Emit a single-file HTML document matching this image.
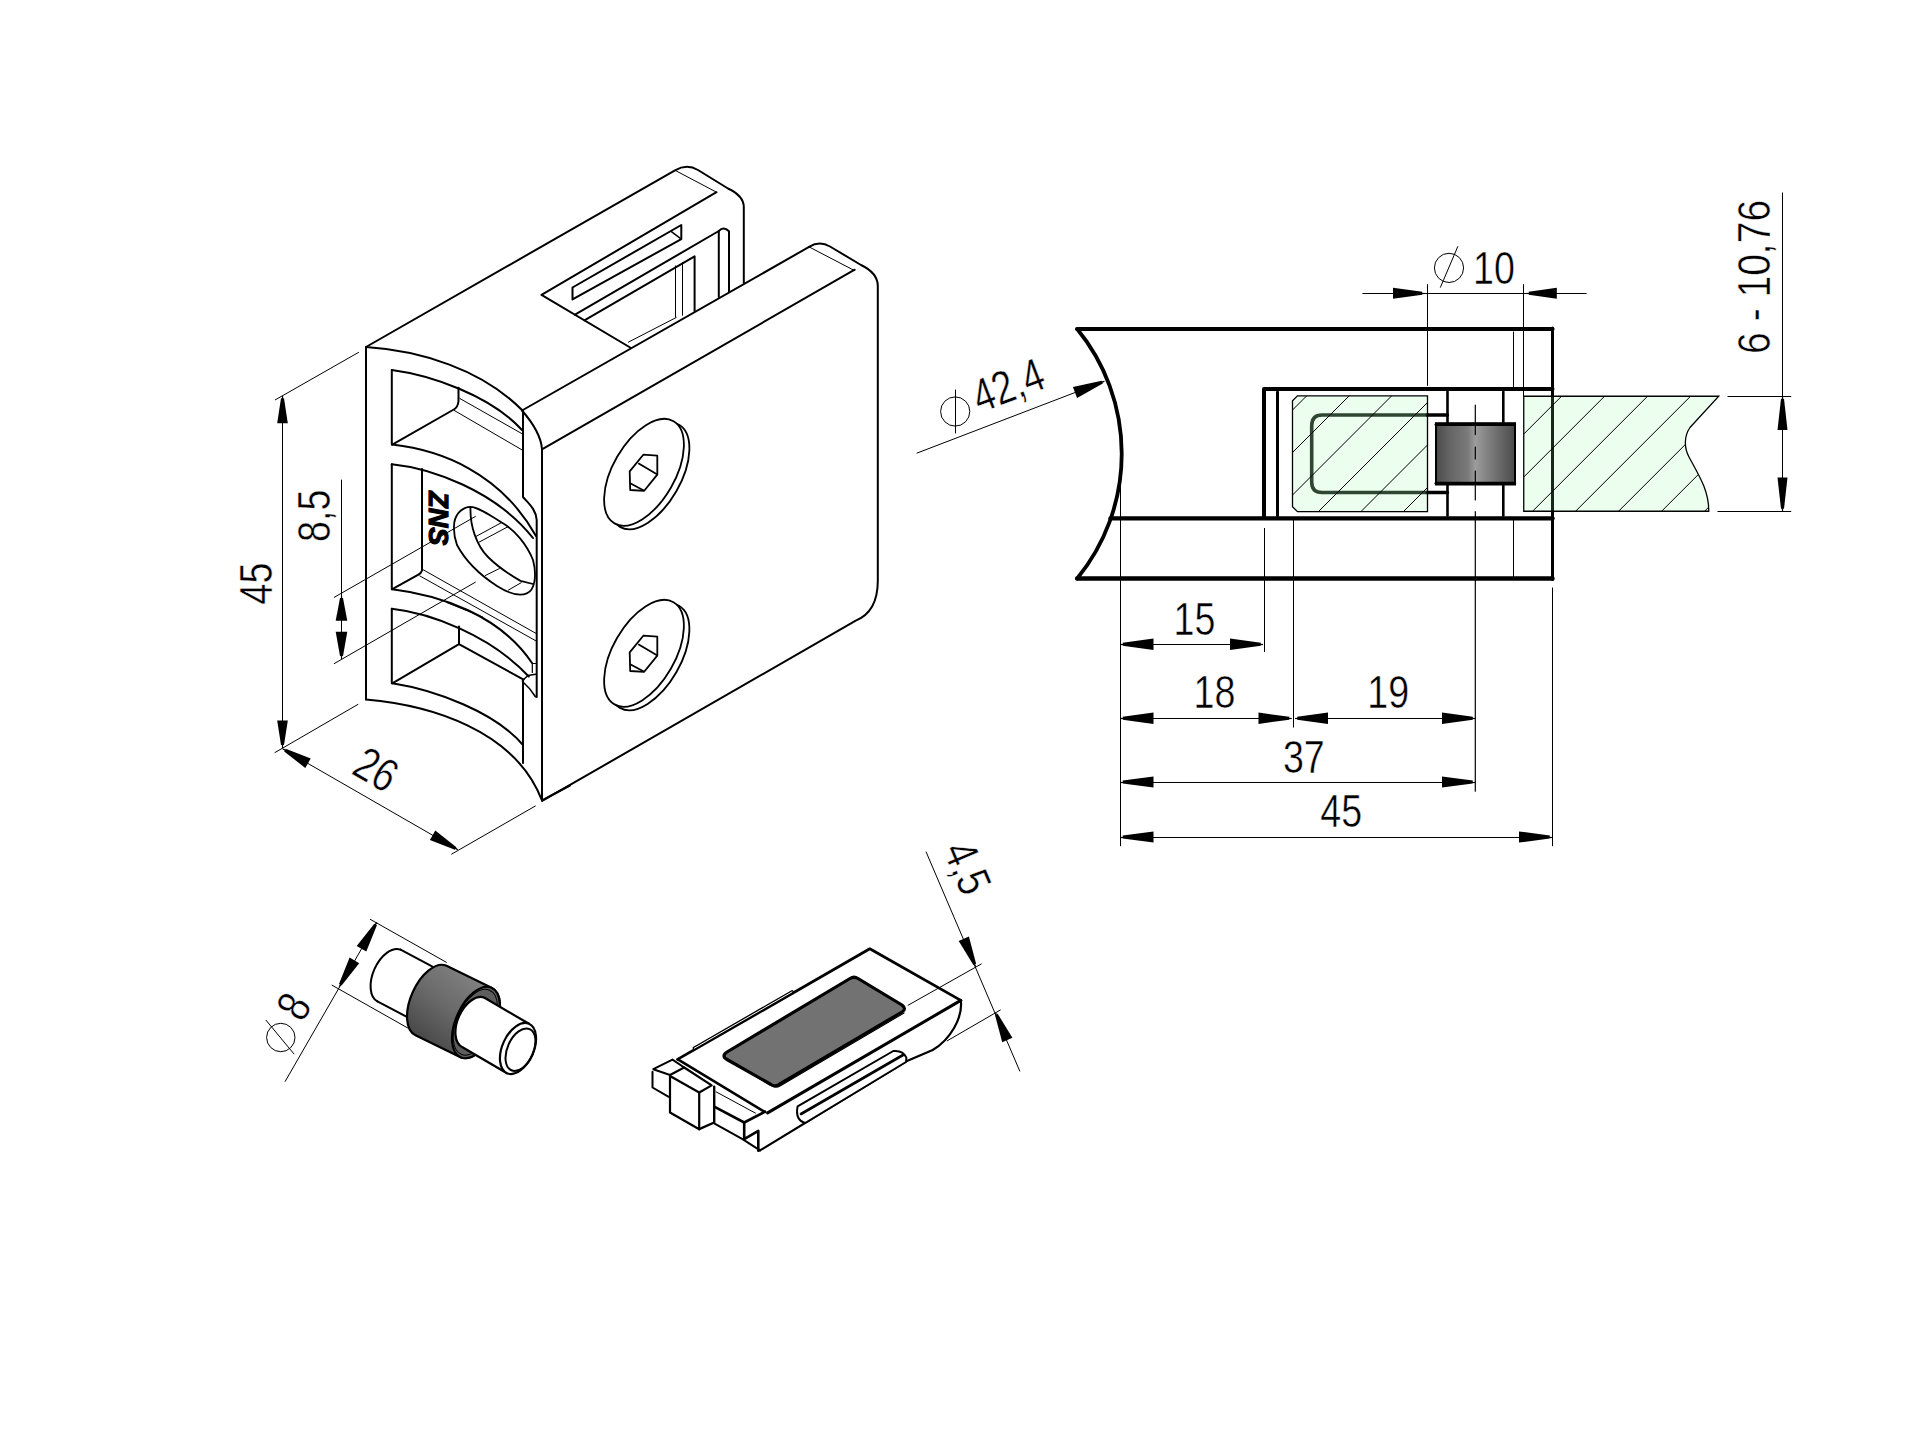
<!DOCTYPE html>
<html><head><meta charset="utf-8"><title>Glass clamp drawing</title>
<style>html,body{margin:0;padding:0;background:#fff;overflow:hidden}svg{display:block}</style>
</head><body>
<svg width="1919" height="1440" viewBox="0 0 1919 1440">
<rect width="1919" height="1440" fill="#fff"/>
<path d="M366,347 L366,699.5" stroke="#000" stroke-width="2.0" fill="none" stroke-linejoin="round" stroke-linecap="round" />
<path d="M366,347 C420,350.5 482,369 523,411" stroke="#000" stroke-width="2.0" fill="none" stroke-linejoin="round" stroke-linecap="round" />
<path d="M366,699.5 C430,705 515,730 542,800.5" stroke="#000" stroke-width="2.0" fill="none" stroke-linejoin="round" stroke-linecap="round" />
<path d="M522,410.5 C532,422 541,436 542,449 L542,800.5" stroke="#000" stroke-width="2.0" fill="none" stroke-linejoin="round" stroke-linecap="round" />
<path d="M523,411 L523,497 C528,503 536,509 536.7,520 L536.7,697" stroke="#000" stroke-width="2.0" fill="none" stroke-linejoin="round" stroke-linecap="round" />
<path d="M523,680 L523,763" stroke="#000" stroke-width="2.0" fill="none" stroke-linejoin="round" stroke-linecap="round" />
<path d="M522.5,680.5 L528,675.5 L535.5,674.2" stroke="#000" stroke-width="1.6" fill="none" stroke-linejoin="round" stroke-linecap="round" />
<path d="M522.5,681.5 Q530,688 535.5,696.7" stroke="#000" stroke-width="1.6" fill="none" stroke-linejoin="round" stroke-linecap="round" />
<path d="M532.3,663.5 L535.5,663.5 M532.3,663.5 L532.3,672.5" stroke="#000" stroke-width="1.2" fill="none" stroke-linejoin="round" stroke-linecap="round" />
<path d="M391.8,370 L391.8,444.6" stroke="#000" stroke-width="2.0" fill="none" stroke-linejoin="round" stroke-linecap="round" />
<path d="M391.8,370 C430,375 490,395 522,430" stroke="#000" stroke-width="2.0" fill="none" stroke-linejoin="round" stroke-linecap="round" />
<path d="M458.5,387.8 L458.5,401 Q458,407 453.8,409.5 L392.3,444.6" stroke="#000" stroke-width="2.0" fill="none" stroke-linejoin="round" stroke-linecap="round" />
<line x1="459.5" y1="398.3" x2="522" y2="433.7" stroke="#000" stroke-width="1.0" />
<line x1="453.8" y1="410.2" x2="522" y2="449.9" stroke="#000" stroke-width="1.0" />
<path d="M392.3,444.6 C440,450 500,472 536,536" stroke="#000" stroke-width="2.0" fill="none" stroke-linejoin="round" stroke-linecap="round" />
<path d="M391.8,464.2 L391.8,589.2" stroke="#000" stroke-width="2.0" fill="none" stroke-linejoin="round" stroke-linecap="round" />
<path d="M391.8,464.2 C430,468 495,490 533,538" stroke="#000" stroke-width="2.0" fill="none" stroke-linejoin="round" stroke-linecap="round" />
<path d="M422,469 L422,570.5 Q421,573.5 418.4,574.6 L392.3,589.2" stroke="#000" stroke-width="2.0" fill="none" stroke-linejoin="round" stroke-linecap="round" />
<line x1="422.5" y1="569.4" x2="536" y2="633.4" stroke="#000" stroke-width="1.0" />
<line x1="419.4" y1="575.7" x2="536" y2="640.9" stroke="#000" stroke-width="1.0" />
<path d="M392.3,589.2 C440,595 500,615 532,663" stroke="#000" stroke-width="2.0" fill="none" stroke-linejoin="round" stroke-linecap="round" />
<path d="M391.8,608.8 L391.8,683.3" stroke="#000" stroke-width="2.0" fill="none" stroke-linejoin="round" stroke-linecap="round" />
<path d="M391.8,608.8 C430,613 490,635 528.8,676.5" stroke="#000" stroke-width="2.0" fill="none" stroke-linejoin="round" stroke-linecap="round" />
<path d="M459,626.5 L459,644.2 L392.3,683.3" stroke="#000" stroke-width="2.0" fill="none" stroke-linejoin="round" stroke-linecap="round" />
<path d="M459,644.2 L523.6,679.6" stroke="#000" stroke-width="2.0" fill="none" stroke-linejoin="round" stroke-linecap="round" />
<path d="M392.3,683.3 C435,690 495,712 523,745" stroke="#000" stroke-width="2.0" fill="none" stroke-linejoin="round" stroke-linecap="round" />
<line x1="446.5" y1="602.5" x2="483" y2="617.1" stroke="#000" stroke-width="1.0" />
<path d="M454.3,522.5 C456,512 464,507 470.5,506.9 C478,507 490,515 501.7,522.5 C515,530 527,545 533,560 C537,575 535,590 526.8,593.4 C518,597 508,593 497,586 C480,575 465,560 457,545 C454,537 453.5,529 454.3,522.5 Z" stroke="#000" stroke-width="1.8" fill="#fff" stroke-linejoin="round" stroke-linecap="round" />
<path d="M470.5,508 C470,525 476,545 488,557 C495,564 505,572 520.5,580.9 L533,584" stroke="#000" stroke-width="1.8" fill="none" stroke-linejoin="round" stroke-linecap="round" />
<line x1="475.7" y1="536.6" x2="501.7" y2="522.5" stroke="#000" stroke-width="1.0" />
<line x1="478.8" y1="542.3" x2="508" y2="526.7" stroke="#000" stroke-width="1.0" />
<line x1="485" y1="575.7" x2="499.7" y2="568.4" stroke="#000" stroke-width="1.0" />
<line x1="508" y1="590.3" x2="521.5" y2="582.5" stroke="#000" stroke-width="1.0" />
<text transform="translate(438 518.3) rotate(90)" font-family="&quot;Liberation Sans&quot;, sans-serif" font-size="27" font-weight="bold" text-anchor="middle" dominant-baseline="central" font-style="italic" stroke="#000" stroke-width="1.2">ZNS</text>
<path d="M366,347 L675,170.3 Q686.8,163.5 698,170 L728,188.5 Q743.8,196 743.8,207 L743.8,283" stroke="#000" stroke-width="2.0" fill="none" stroke-linejoin="round" stroke-linecap="round" />
<line x1="675" y1="170.3" x2="716.5" y2="192.2" stroke="#000" stroke-width="1.0" />
<path d="M716.5,192.2 L541.5,294.9 L631,348" stroke="#000" stroke-width="2.0" fill="none" stroke-linejoin="round" stroke-linecap="round" />
<path d="M572.5,287.5 L681.3,225 L681.3,239.1 L572.5,299.4 Z" stroke="#000" stroke-width="2.0" fill="none" stroke-linejoin="round" stroke-linecap="round" />
<line x1="671.1" y1="231.3" x2="681.3" y2="239.1" stroke="#000" stroke-width="1.5" />
<path d="M575,314.7 L718.8,231 Q723.5,226 729,231.3 L729,291.5" stroke="#000" stroke-width="2.0" fill="none" stroke-linejoin="round" stroke-linecap="round" />
<path d="M718.8,231 L718.8,297" stroke="#000" stroke-width="2.0" fill="none" stroke-linejoin="round" stroke-linecap="round" />
<path d="M584.4,320.3 L694.6,256.3 L694.6,311" stroke="#000" stroke-width="2.0" fill="none" stroke-linejoin="round" stroke-linecap="round" />
<line x1="682.5" y1="262" x2="682.5" y2="315.7" stroke="#000" stroke-width="1.0" />
<line x1="675.5" y1="265.5" x2="675.5" y2="317.3" stroke="#000" stroke-width="1.0" />
<line x1="676.6" y1="317.3" x2="628.1" y2="342.3" stroke="#000" stroke-width="1.0" />
<path d="M809.1,246.9 L522,410.5" stroke="#000" stroke-width="2.0" fill="none" stroke-linejoin="round" stroke-linecap="round" />
<path d="M809.1,246.9 Q819.5,240.5 830,246.5 L861,265 Q877.8,273 877.8,286 L877.8,580.8 Q877.8,612 855.3,620.9 L542.6,800.7" stroke="#000" stroke-width="2.0" fill="none" stroke-linejoin="round" stroke-linecap="round" />
<line x1="809.1" y1="246.9" x2="854.7" y2="270.7" stroke="#000" stroke-width="1.0" />
<path d="M854.7,269.7 L542.8,448.9" stroke="#000" stroke-width="2.0" fill="none" stroke-linejoin="round" stroke-linecap="round" />
<path d="M542,800.4 L570,785.5" stroke="#000" stroke-width="2.0" fill="none" stroke-linejoin="round" stroke-linecap="round" />
<ellipse cx="649.5" cy="475.8" rx="59" ry="31" transform="rotate(-60 649.5 475.8)" fill="#fff" stroke="#000" stroke-width="1.8"/>
<ellipse cx="644" cy="472.3" rx="59" ry="31" transform="rotate(-60 644 472.3)" fill="#fff" stroke="#000" stroke-width="1.8"/>
<polygon points="643.3,454.7 657.3,455.6 657.3,474.6 644.2,490.8 630.2,490 629.7,471.4" fill="none" stroke="#000" stroke-width="1.8" stroke-linejoin="round"/>
<line x1="638.3" y1="463.3" x2="657.3" y2="474.6" stroke="#000" stroke-width="1.8" />
<line x1="630.2" y1="483.2" x2="644.2" y2="490.8" stroke="#000" stroke-width="1.8" />
<ellipse cx="649.5" cy="656.8" rx="59" ry="31" transform="rotate(-60 649.5 656.8)" fill="#fff" stroke="#000" stroke-width="1.8"/>
<ellipse cx="644" cy="653.3" rx="59" ry="31" transform="rotate(-60 644 653.3)" fill="#fff" stroke="#000" stroke-width="1.8"/>
<polygon points="643.3,635.7 657.3,636.6 657.3,655.6 644.2,671.8 630.2,671 629.7,652.4" fill="none" stroke="#000" stroke-width="1.8" stroke-linejoin="round"/>
<line x1="638.3" y1="644.3" x2="657.3" y2="655.6" stroke="#000" stroke-width="1.8" />
<line x1="630.2" y1="664.2" x2="644.2" y2="671.8" stroke="#000" stroke-width="1.8" />
<line x1="282.5" y1="396" x2="282.5" y2="748" stroke="#000" stroke-width="1.0" />
<polygon points="281,398.3 277.2,423.3 287.8,423.3 284,398.3" fill="#000" stroke="none" stroke-width="0"/>
<line x1="282.5" y1="396.1" x2="282.5" y2="398.3" stroke="#000" stroke-width="1.2" />
<polygon points="284,745 287.8,720.6 277.2,720.6 281,745" fill="#000" stroke="none" stroke-width="0"/>
<line x1="282.5" y1="747.2" x2="282.5" y2="745" stroke="#000" stroke-width="1.2" />
<line x1="275" y1="400" x2="358.9" y2="352.2" stroke="#000" stroke-width="1.0" />
<line x1="274.7" y1="752.7" x2="358.3" y2="704.2" stroke="#000" stroke-width="1.0" />
<text transform="translate(255 583.5) rotate(-90) scale(0.8 1)" font-family="&quot;Liberation Sans&quot;, sans-serif" font-size="47" font-weight="normal" text-anchor="middle" dominant-baseline="central" stroke="#fff" stroke-width="0.5" paint-order="fill">45</text>
<line x1="341.5" y1="479.7" x2="341.5" y2="659" stroke="#000" stroke-width="1.0" />
<polygon points="340,597.9 335.7,620.7 347.3,620.7 343,597.9" fill="#000" stroke="none" stroke-width="0"/>
<line x1="341.5" y1="595.7" x2="341.5" y2="597.9" stroke="#000" stroke-width="1.2" />
<polygon points="343,656 347.3,631.8 335.7,631.8 340,656" fill="#000" stroke="none" stroke-width="0"/>
<line x1="341.5" y1="658.2" x2="341.5" y2="656" stroke="#000" stroke-width="1.2" />
<line x1="333.9" y1="597.5" x2="475.7" y2="516.3" stroke="#000" stroke-width="1.0" />
<line x1="333.9" y1="663.8" x2="475.7" y2="582" stroke="#000" stroke-width="1.0" />
<text transform="translate(313 515.8) rotate(-90) scale(0.8 1)" font-family="&quot;Liberation Sans&quot;, sans-serif" font-size="47" font-weight="normal" text-anchor="middle" dominant-baseline="central" stroke="#fff" stroke-width="0.5" paint-order="fill">8,5</text>
<line x1="282.5" y1="748.8" x2="457.6" y2="849.6" stroke="#000" stroke-width="1.0" />
<polygon points="284.2,751.4 305.3,768 310.7,758.4 285.7,748.8" fill="#000" stroke="none" stroke-width="0"/>
<line x1="283" y1="749" x2="284.9" y2="750.1" stroke="#000" stroke-width="1.2" />
<polygon points="456.4,847.2 435.3,830.4 429.9,840 454.9,849.8" fill="#000" stroke="none" stroke-width="0"/>
<line x1="457.6" y1="849.6" x2="455.7" y2="848.5" stroke="#000" stroke-width="1.2" />
<line x1="451.3" y1="854.3" x2="535.7" y2="805.8" stroke="#000" stroke-width="1.0" />
<text transform="translate(376.3 769.1) rotate(30) scale(0.8 1)" font-family="&quot;Liberation Sans&quot;, sans-serif" font-size="47" font-weight="normal" text-anchor="middle" dominant-baseline="central" stroke="#fff" stroke-width="0.5" paint-order="fill">26</text>
<path d="M1077.2,329 L1552.5,329" stroke="#000" stroke-width="4.2" fill="none" stroke-linejoin="round" stroke-linecap="round" />
<path d="M1077.2,578.5 L1552.5,578.5" stroke="#000" stroke-width="4.4" fill="none" stroke-linejoin="round" stroke-linecap="round" />
<path d="M1077.2,329 A197,197 0 0 1 1077.2,578.5" stroke="#000" stroke-width="3.8" fill="none" stroke-linejoin="round" stroke-linecap="round" />
<path d="M1110.5,518.4 L1552.5,518.4" stroke="#000" stroke-width="4.4" fill="none" stroke-linejoin="round" stroke-linecap="round" />
<path d="M1552.5,328 L1552.5,579.5" stroke="#000" stroke-width="3" fill="none" stroke-linejoin="round" stroke-linecap="round" />
<path d="M1264,518 L1264,389 L1552.5,389" stroke="#000" stroke-width="4" fill="none" stroke-linejoin="round" stroke-linecap="round" />
<path d="M1277.5,392 L1277.5,516" stroke="#000" stroke-width="3" fill="none" stroke-linejoin="round" stroke-linecap="round" />
<line x1="1513.5" y1="331.6" x2="1513.5" y2="389.9" stroke="#000" stroke-width="1.0" />
<line x1="1513.5" y1="518" x2="1513.5" y2="578.8" stroke="#000" stroke-width="1.0" />
<path d="M1427.5,415 L1322,415 Q1311.7,415 1311.7,426 L1311.7,482 Q1311.7,492.5 1322,492.5 L1427.5,492.5" stroke="#1e2420" stroke-width="3.6" fill="none" stroke-linejoin="round" stroke-linecap="round" />
<path d="M1427,415 L1447.5,415 M1427,492.5 L1447.5,492.5" stroke="#000" stroke-width="3.4" fill="none" stroke-linejoin="round" stroke-linecap="round" />
<path d="M1447.5,391.7 L1447.5,515.8" stroke="#000" stroke-width="2.6" fill="none" stroke-linejoin="round" stroke-linecap="round" />
<path d="M1503.3,391.7 L1503.3,515.8" stroke="#000" stroke-width="2.6" fill="none" stroke-linejoin="round" stroke-linecap="round" />
<path d="M1297.5,395.8 L1427.5,395.8 L1427.5,511.7 L1297.5,511.7 L1292.5,506.7 L1292.5,400.8 Z" fill="rgba(136,249,149,0.16)" stroke="none"/>
<path d="M1523.75,396.25 L1718.75,396.25 L1690,427.5 C1684,436 1684,448 1689,457 C1698,474 1709,490 1708.75,511.25 L1523.75,511.25 Z" fill="rgba(136,249,149,0.16)" stroke="none"/>
<clipPath id="cins"><path d="M1297.5,395.8 L1427.5,395.8 L1427.5,511.7 L1297.5,511.7 L1292.5,506.7 L1292.5,400.8 Z"/></clipPath>
<clipPath id="cgl"><path d="M1523.75,396.25 L1718.75,396.25 L1690,427.5 C1684,436 1684,448 1689,457 C1698,474 1709,490 1708.75,511.25 L1523.75,511.25 Z"/></clipPath>
<path d="M845,560 L1065,340 M887.5,560 L1107.5,340 M930,560 L1150,340 M972.5,560 L1192.5,340 M1015,560 L1235,340 M1057.5,560 L1277.5,340 M1100,560 L1320,340 M1142.5,560 L1362.5,340 M1185,560 L1405,340 M1227.5,560 L1447.5,340 M1270,560 L1490,340 M1312.5,560 L1532.5,340 M1355,560 L1575,340 M1397.5,560 L1617.5,340 M1440,560 L1660,340 M1482.5,560 L1702.5,340 M1525,560 L1745,340 M1567.5,560 L1787.5,340 M1610,560 L1830,340 M1652.5,560 L1872.5,340 M1695,560 L1915,340 M1737.5,560 L1957.5,340 M1780,560 L2000,340 M1822.5,560 L2042.5,340 M1865,560 L2085,340 M1907.5,560 L2127.5,340 M1950,560 L2170,340 M1992.5,560 L2212.5,340 M2035,560 L2255,340 M2077.5,560 L2297.5,340" stroke="#000" stroke-width="1" clip-path="url(#cins)" fill="none"/>
<path d="M1096.8,560 L1316.8,340 M1139.8,560 L1359.8,340 M1182.8,560 L1402.8,340 M1225.8,560 L1445.8,340 M1268.8,560 L1488.8,340 M1311.8,560 L1531.8,340 M1354.8,560 L1574.8,340 M1397.8,560 L1617.8,340 M1440.8,560 L1660.8,340 M1483.8,560 L1703.8,340 M1526.8,560 L1746.8,340 M1569.8,560 L1789.8,340 M1612.8,560 L1832.8,340 M1655.8,560 L1875.8,340 M1698.8,560 L1918.8,340 M1741.8,560 L1961.8,340 M1784.8,560 L2004.8,340 M1827.8,560 L2047.8,340 M1870.8,560 L2090.8,340 M1913.8,560 L2133.8,340 M1956.8,560 L2176.8,340 M1999.8,560 L2219.8,340 M2042.8,560 L2262.8,340 M2085.8,560 L2305.8,340 M2128.8,560 L2348.8,340 M2171.8,560 L2391.8,340 M2214.8,560 L2434.8,340 M2257.8,560 L2477.8,340 M2300.8,560 L2520.8,340 M2343.8,560 L2563.8,340" stroke="#000" stroke-width="1" clip-path="url(#cgl)" fill="none"/>
<path d="M1297.5,395.8 L1427.5,395.8 L1427.5,511.7 L1297.5,511.7 L1292.5,506.7 L1292.5,400.8 Z" fill="none" stroke="#000" stroke-width="1.3"/>
<path d="M1523.75,396.25 L1718.75,396.25 L1690,427.5 C1684,436 1684,448 1689,457 C1698,474 1709,490 1708.75,511.25 L1523.75,511.25 Z" fill="none" stroke="#000" stroke-width="1.3"/>
<defs><linearGradient id="rub" x1="0" x2="1" y1="0" y2="0"><stop offset="0" stop-color="#4a4a4a"/><stop offset="0.15" stop-color="#626262"/><stop offset="0.4" stop-color="#7a7a7a"/><stop offset="0.5" stop-color="#9c9c9c"/><stop offset="0.6" stop-color="#8a8a8a"/><stop offset="0.8" stop-color="#6a6a6a"/><stop offset="1" stop-color="#4a4a4a"/></linearGradient></defs>
<rect x="1436" y="423.2" width="79" height="61.3" fill="url(#rub)" stroke="#000" stroke-width="2"/>
<path d="M1436,424.6 L1514.5,424.6" stroke="#000" stroke-width="3" fill="none" stroke-linejoin="round" stroke-linecap="round" />
<path d="M1436,483.2 L1514.5,483.2" stroke="#000" stroke-width="3" fill="none" stroke-linejoin="round" stroke-linecap="round" />
<path d="M1475.3,405 L1475.3,434.6 M1475.3,447 L1475.3,459 M1475.3,471 L1475.3,500 M1475.3,511.5 L1475.3,791.25" stroke="#000" stroke-width="1.2" fill="none" stroke-linejoin="round" stroke-linecap="round" />
<line x1="1427.5" y1="284.2" x2="1427.5" y2="385.8" stroke="#000" stroke-width="1.0" />
<line x1="1523.5" y1="284.2" x2="1523.5" y2="396" stroke="#000" stroke-width="1.0" />
<line x1="1362.4" y1="293.5" x2="1586.6" y2="293.5" stroke="#000" stroke-width="1.0" />
<polygon points="1422.3,291.8 1393,287.8 1393,298.8 1422.3,294.8" fill="#000" stroke="none" stroke-width="0"/>
<line x1="1424.5" y1="293.5" x2="1422.3" y2="293.5" stroke="#000" stroke-width="1.2" />
<polygon points="1528.7,294.8 1556.8,298.8 1556.8,287.8 1528.7,291.8" fill="#000" stroke="none" stroke-width="0"/>
<line x1="1526.5" y1="293.5" x2="1528.7" y2="293.5" stroke="#000" stroke-width="1.2" />
<circle cx="1449" cy="267.9" r="14.6" fill="none" stroke="#000" stroke-width="1"/>
<line x1="1440.3" y1="287.6" x2="1457.9" y2="246.3" stroke="#000" stroke-width="1" />
<text transform="translate(1494 267) scale(0.8 1)" font-family="&quot;Liberation Sans&quot;, sans-serif" font-size="47" font-weight="normal" text-anchor="middle" dominant-baseline="central" stroke="#fff" stroke-width="0.5" paint-order="fill">10</text>
<line x1="916.7" y1="453.2" x2="1104.3" y2="381.3" stroke="#000" stroke-width="1.0" />
<polygon points="1101.7,380.7 1072.9,387.1 1077.1,397.9 1102.8,383.5" fill="#000" stroke="none" stroke-width="0"/>
<line x1="1104.3" y1="381.3" x2="1102.2" y2="382.1" stroke="#000" stroke-width="1.2" />
<circle cx="955.2" cy="411.5" r="14.6" fill="none" stroke="#000" stroke-width="1"/>
<line x1="955.5" y1="389.6" x2="955.5" y2="433.4" stroke="#000" stroke-width="1" />
<text transform="translate(1008 385) rotate(-21) scale(0.8 1)" font-family="&quot;Liberation Sans&quot;, sans-serif" font-size="47" font-weight="normal" text-anchor="middle" dominant-baseline="central" stroke="#fff" stroke-width="0.5" paint-order="fill">42,4</text>
<line x1="1782.5" y1="192.5" x2="1782.5" y2="511.2" stroke="#000" stroke-width="1.0" />
<polygon points="1781,398.7 1777.5,430 1787.5,430 1784,398.7" fill="#000" stroke="none" stroke-width="0"/>
<line x1="1782.5" y1="396.5" x2="1782.5" y2="398.7" stroke="#000" stroke-width="1.2" />
<polygon points="1784,508.8 1787.5,477.5 1777.5,477.5 1781,508.8" fill="#000" stroke="none" stroke-width="0"/>
<line x1="1782.5" y1="511" x2="1782.5" y2="508.8" stroke="#000" stroke-width="1.2" />
<line x1="1727.5" y1="396.5" x2="1791.2" y2="396.5" stroke="#000" stroke-width="1.0" />
<line x1="1717.5" y1="511.5" x2="1791.2" y2="511.5" stroke="#000" stroke-width="1.0" />
<text transform="translate(1753.5 276.9) rotate(-90) scale(0.83 1)" font-family="&quot;Liberation Sans&quot;, sans-serif" font-size="47" font-weight="normal" text-anchor="middle" dominant-baseline="central" stroke="#fff" stroke-width="0.5" paint-order="fill">6 - 10,76</text>
<line x1="1120.5" y1="479.3" x2="1120.5" y2="846.2" stroke="#000" stroke-width="1.0" />
<line x1="1264.5" y1="528" x2="1264.5" y2="652" stroke="#000" stroke-width="1.0" />
<line x1="1293.5" y1="518" x2="1293.5" y2="727.5" stroke="#000" stroke-width="1.0" />
<line x1="1552.5" y1="587.5" x2="1552.5" y2="846.2" stroke="#000" stroke-width="1.0" />
<line x1="1120.5" y1="644.5" x2="1263" y2="644.5" stroke="#000" stroke-width="1.0" />
<polygon points="1122.7,645.8 1153.5,649.9 1153.5,638.6 1122.7,642.8" fill="#000" stroke="none" stroke-width="0"/>
<line x1="1120.5" y1="644.5" x2="1122.7" y2="644.5" stroke="#000" stroke-width="1.2" />
<polygon points="1260.8,642.8 1230,638.6 1230,649.9 1260.8,645.8" fill="#000" stroke="none" stroke-width="0"/>
<line x1="1263" y1="644.5" x2="1260.8" y2="644.5" stroke="#000" stroke-width="1.2" />
<line x1="1120.5" y1="718.5" x2="1291.5" y2="718.5" stroke="#000" stroke-width="1.0" />
<polygon points="1122.7,719.8 1153.5,723.9 1153.5,712.6 1122.7,716.8" fill="#000" stroke="none" stroke-width="0"/>
<line x1="1120.5" y1="718.5" x2="1122.7" y2="718.5" stroke="#000" stroke-width="1.2" />
<polygon points="1289.3,716.8 1258.5,712.6 1258.5,723.9 1289.3,719.8" fill="#000" stroke="none" stroke-width="0"/>
<line x1="1291.5" y1="718.5" x2="1289.3" y2="718.5" stroke="#000" stroke-width="1.2" />
<line x1="1295" y1="718.5" x2="1475" y2="718.5" stroke="#000" stroke-width="1.0" />
<polygon points="1297.2,719.8 1328,723.9 1328,712.6 1297.2,716.8" fill="#000" stroke="none" stroke-width="0"/>
<line x1="1295" y1="718.5" x2="1297.2" y2="718.5" stroke="#000" stroke-width="1.2" />
<polygon points="1472.8,716.8 1442,712.6 1442,723.9 1472.8,719.8" fill="#000" stroke="none" stroke-width="0"/>
<line x1="1475" y1="718.5" x2="1472.8" y2="718.5" stroke="#000" stroke-width="1.2" />
<line x1="1120.5" y1="782.5" x2="1475" y2="782.5" stroke="#000" stroke-width="1.0" />
<polygon points="1122.7,783.5 1153.5,787.6 1153.5,776.4 1122.7,780.5" fill="#000" stroke="none" stroke-width="0"/>
<line x1="1120.5" y1="782.5" x2="1122.7" y2="782.5" stroke="#000" stroke-width="1.2" />
<polygon points="1472.8,780.5 1442,776.4 1442,787.6 1472.8,783.5" fill="#000" stroke="none" stroke-width="0"/>
<line x1="1475" y1="782.5" x2="1472.8" y2="782.5" stroke="#000" stroke-width="1.2" />
<line x1="1120.5" y1="837.5" x2="1552" y2="837.5" stroke="#000" stroke-width="1.0" />
<polygon points="1122.7,838.5 1153.5,842.6 1153.5,831.4 1122.7,835.5" fill="#000" stroke="none" stroke-width="0"/>
<line x1="1120.5" y1="837.5" x2="1122.7" y2="837.5" stroke="#000" stroke-width="1.2" />
<polygon points="1549.8,835.5 1519,831.4 1519,842.6 1549.8,838.5" fill="#000" stroke="none" stroke-width="0"/>
<line x1="1552" y1="837.5" x2="1549.8" y2="837.5" stroke="#000" stroke-width="1.2" />
<text transform="translate(1194.5 618.1) scale(0.8 1)" font-family="&quot;Liberation Sans&quot;, sans-serif" font-size="47" font-weight="normal" text-anchor="middle" dominant-baseline="central" stroke="#fff" stroke-width="0.5" paint-order="fill">15</text>
<text transform="translate(1214.5 691.9) scale(0.8 1)" font-family="&quot;Liberation Sans&quot;, sans-serif" font-size="47" font-weight="normal" text-anchor="middle" dominant-baseline="central" stroke="#fff" stroke-width="0.5" paint-order="fill">18</text>
<text transform="translate(1388.2 691.9) scale(0.8 1)" font-family="&quot;Liberation Sans&quot;, sans-serif" font-size="47" font-weight="normal" text-anchor="middle" dominant-baseline="central" stroke="#fff" stroke-width="0.5" paint-order="fill">19</text>
<text transform="translate(1303.8 756) scale(0.8 1)" font-family="&quot;Liberation Sans&quot;, sans-serif" font-size="47" font-weight="normal" text-anchor="middle" dominant-baseline="central" stroke="#fff" stroke-width="0.5" paint-order="fill">37</text>
<text transform="translate(1341.2 810.6) scale(0.8 1)" font-family="&quot;Liberation Sans&quot;, sans-serif" font-size="47" font-weight="normal" text-anchor="middle" dominant-baseline="central" stroke="#fff" stroke-width="0.5" paint-order="fill">45</text>
<defs><linearGradient id="ring" gradientUnits="userSpaceOnUse" x1="485" y1="975" x2="425" y2="1050"><stop offset="0" stop-color="#858585"/><stop offset="0.5" stop-color="#6a6a6a"/><stop offset="1" stop-color="#444"/></linearGradient></defs>
<path d="M400.6,949.6 A28.4,16.5 114 0 0 377.4,1001.4 L422.4,1025.4 L445.6,973.6 Z" fill="#fff" stroke="none"/>
<path d="M400.6,949.6 A28.4,16.5 114 0 0 377.4,1001.4" stroke="#000" stroke-width="2" fill="none" stroke-linejoin="round" stroke-linecap="round" />
<path d="M400.6,949.6 L445.6,973.6" stroke="#000" stroke-width="2" fill="none" stroke-linejoin="round" stroke-linecap="round" />
<path d="M377.4,1001.4 L417.4,1022.4" stroke="#000" stroke-width="2" fill="none" stroke-linejoin="round" stroke-linecap="round" />
<path d="M446.5,965.8 A38,20.1 114 0 0 415.5,1035.2 L460.5,1057.2 A38,20.1 114 0 0 491.5,987.8 Z" fill="url(#ring)" stroke="#000" stroke-width="2.2" stroke-linejoin="round"/>
<ellipse cx="476" cy="1022.5" rx="38" ry="20.1" transform="rotate(114 476 1022.5)" fill="#5e5e5e" stroke="#000" stroke-width="2.2"/>
<ellipse cx="475.4" cy="1022.2" rx="35" ry="18.6" transform="rotate(114 475.4 1022.2)" fill="none" stroke="#000" stroke-width="1"/>
<path d="M484.5,997.8 L529,1023.8 L507,1073.2 L462.5,1047.2 A27,15.7 114 0 1 484.5,997.8 Z" fill="#fff" stroke="#000" stroke-width="2.2" stroke-linejoin="round"/>
<ellipse cx="518" cy="1048.5" rx="27" ry="15.7" transform="rotate(114 518 1048.5)" fill="#fff" stroke="#000" stroke-width="2.2"/>
<ellipse cx="520.5" cy="1049.7" rx="22.5" ry="13" transform="rotate(114 520.5 1049.7)" fill="none" stroke="#000" stroke-width="2"/>
<line x1="370" y1="919.2" x2="446.7" y2="962.5" stroke="#000" stroke-width="1.0" />
<line x1="331.7" y1="985" x2="408.3" y2="1028.3" stroke="#000" stroke-width="1.0" />
<line x1="376.7" y1="922.5" x2="285" y2="1081.7" stroke="#000" stroke-width="1.0" />
<polygon points="374.3,923.7 356.7,946 366.3,951.6 376.9,925.2" fill="#000" stroke="none" stroke-width="0"/>
<line x1="376.7" y1="922.5" x2="375.6" y2="924.4" stroke="#000" stroke-width="1.2" />
<polygon points="341.6,985.5 359.2,963.2 349.6,957.6 339,984" fill="#000" stroke="none" stroke-width="0"/>
<line x1="339.2" y1="986.7" x2="340.3" y2="984.8" stroke="#000" stroke-width="1.2" />
<circle cx="280.8" cy="1037.5" r="14.2" fill="none" stroke="#000" stroke-width="1"/>
<line x1="265.8" y1="1020" x2="294.2" y2="1054.2" stroke="#000" stroke-width="1" />
<text transform="translate(293.3 1006.2) rotate(-60) scale(0.8 1)" font-family="&quot;Liberation Sans&quot;, sans-serif" font-size="47" font-weight="normal" text-anchor="middle" dominant-baseline="central" stroke="#fff" stroke-width="0.5" paint-order="fill">8</text>
<polygon points="677.5,1059.4 869.8,948.8 960.8,1000.4 767.6,1112.9" fill="#fff" stroke="none" stroke-width="0"/>
<path d="M677.5,1059.4 L869.8,948.8 L960.8,1000.4" stroke="#000" stroke-width="2.8" fill="none" stroke-linejoin="round" stroke-linecap="round" />
<path d="M960.8,1000.4 L767.6,1112.9" stroke="#000" stroke-width="3" fill="none" stroke-linejoin="round" stroke-linecap="round" />
<path d="M678.3,1059.6 L765,1112" stroke="#000" stroke-width="2.6" fill="none" stroke-linejoin="round" stroke-linecap="round" />
<path d="M960.8,1000.4 C963,1018 950,1040 932.7,1050 L906.4,1061.3 L760,1150.4" stroke="#000" stroke-width="2.2" fill="none" stroke-linejoin="round" stroke-linecap="round" />
<path d="M797.6,1106.4 L893.3,1051 Q903,1050 906.4,1057.6 L906,1062 L805.1,1123 Q795,1120 797.6,1106.4 Z" stroke="#000" stroke-width="2" fill="#fff" stroke-linejoin="round" stroke-linecap="round" />
<path d="M801,1114 L903,1055" stroke="#000" stroke-width="2.6" fill="none" stroke-linejoin="round" stroke-linecap="round" />
<path d="M727,1052 L850,978.5 Q854,976 858,978.5 L902,1005 Q907,1009 902,1012 L779,1084.5 Q775,1087 771,1084.5 L727,1059.5 Q721,1056 727,1052 Z" fill="#727272" stroke="#000" stroke-width="3.2" stroke-linejoin="round"/>
<path d="M731,1061.5 L772,1086 Q776,1088.5 780,1086 L904,1013" stroke="#000" stroke-width="1.2" fill="none" stroke-linejoin="round" stroke-linecap="round" />
<path d="M694.4,1048.2 L792,991.9" stroke="#000" stroke-width="3.5" fill="none" stroke-linejoin="round" stroke-linecap="round" />
<path d="M694.4,1048.2 L792,991.9" stroke="#fff" stroke-width="1" fill="none" stroke-linejoin="round" stroke-linecap="round" />
<path d="M653.3,1069.2 L672.5,1059.6 L684.2,1067.5 L670,1075 Z" stroke="#000" stroke-width="2" fill="none" stroke-linejoin="round" stroke-linecap="round" />
<path d="M652.5,1071.7 L652.5,1087.5 L668.3,1096.7" stroke="#000" stroke-width="2" fill="none" stroke-linejoin="round" stroke-linecap="round" />
<path d="M670,1076.7 L670,1112.5 L699.2,1129.2 L699.2,1092.5 L670,1076" stroke="#000" stroke-width="2.2" fill="none" stroke-linejoin="round" stroke-linecap="round" />
<path d="M684.2,1067.5 L711.7,1085.4 L699.2,1092.5" stroke="#000" stroke-width="2.2" fill="none" stroke-linejoin="round" stroke-linecap="round" />
<path d="M699.2,1129.2 L714.2,1122.5 L714.2,1086.7" stroke="#000" stroke-width="2.4" fill="none" stroke-linejoin="round" stroke-linecap="round" />
<path d="M714.2,1106.7 L744.2,1122.5 L765,1111.7" stroke="#000" stroke-width="2.6" fill="none" stroke-linejoin="round" stroke-linecap="round" />
<path d="M744.2,1122.5 L744.2,1139.2 L758.3,1130.8 L758.3,1150.8" stroke="#000" stroke-width="2.6" fill="none" stroke-linejoin="round" stroke-linecap="round" />
<path d="M714.2,1123.3 L742.5,1139.2 L760,1150.4" stroke="#000" stroke-width="2" fill="none" stroke-linejoin="round" stroke-linecap="round" />
<line x1="715.8" y1="1091.7" x2="755.8" y2="1113.3" stroke="#000" stroke-width="1.0" />
<line x1="926" y1="851.7" x2="1019.9" y2="1071.4" stroke="#000" stroke-width="1.0" />
<polygon points="976.1,963.8 968.9,936.6 958.7,941 973.4,965" fill="#000" stroke="none" stroke-width="0"/>
<line x1="975.6" y1="966.4" x2="974.7" y2="964.4" stroke="#000" stroke-width="1.2" />
<polygon points="995,1015 1002.2,1042.2 1012.4,1037.8 997.7,1013.8" fill="#000" stroke="none" stroke-width="0"/>
<line x1="995.5" y1="1012.4" x2="996.4" y2="1014.4" stroke="#000" stroke-width="1.2" />
<line x1="907.8" y1="1005.4" x2="981.6" y2="963.8" stroke="#000" stroke-width="1.0" />
<line x1="946.9" y1="1041" x2="1000.7" y2="1009.8" stroke="#000" stroke-width="1.0" />
<text transform="translate(968 867.5) rotate(67) scale(0.8 1)" font-family="&quot;Liberation Sans&quot;, sans-serif" font-size="47" font-weight="normal" text-anchor="middle" dominant-baseline="central" stroke="#fff" stroke-width="0.5" paint-order="fill">4,5</text>
</svg>
</body></html>
